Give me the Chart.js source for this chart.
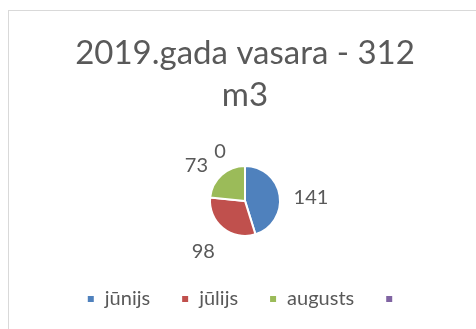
<!DOCTYPE html>
<html>
<head>
<meta charset="utf-8">
<script src="https://cdn.jsdelivr.net/npm/chart.js@4/dist/chart.umd.min.js"></script>
<style>
  html, body { margin: 0; padding: 0; background: #ffffff; }
  #c { display: block; }
</style>
</head>
<body>
<canvas id="c" width="476" height="329"></canvas>
<script>
// Summer 2019 water usage by month
const months = ['jūnijs', 'jūlijs', 'augusts', ''];
const volumes = [141, 98, 73, 0];
const titleLines = ['2019.gada vasara - 312', 'm3'];
const sliceColors = ['#4F81BD', '#C0504D', '#9BBB59', '#8064A2'];

const textColor = '#595959';
const fontFamily = 'Lato, "Open Sans", sans-serif';

// Light frame around the chart area
const frame = {
  id: 'frame',
  beforeDraw(chart) {
    const ctx = chart.ctx;
    ctx.save();
    ctx.strokeStyle = '#d9d9d9';
    ctx.lineWidth = 1;
    ctx.strokeRect(8.5, 10.5, 600, 600);
    ctx.restore();
  }
};

// Value labels placed outside each slice, along its middle angle
const outsideLabels = {
  id: 'outsideLabels',
  afterDatasetsDraw(chart, args, opts) {
    const ctx = chart.ctx;
    const meta = chart.getDatasetMeta(0);
    const values = chart.data.datasets[0].data;
    ctx.save();
    ctx.font = opts.size + 'px ' + fontFamily;
    ctx.fillStyle = opts.color;
    ctx.textAlign = 'center';
    ctx.textBaseline = 'middle';
    meta.data.forEach((arc, i) => {
      const p = arc.getProps(['x', 'y', 'startAngle', 'endAngle', 'outerRadius'], true);
      const adj = opts.adjust[i] || [0, 0];
      const a = (p.startAngle + p.endAngle) / 2 + adj[0] * Math.PI / 180;
      const d = p.outerRadius + adj[1];
      ctx.fillText(String(values[i]), p.x + Math.cos(a) * d, p.y + Math.sin(a) * d);
    });
    ctx.restore();
  }
};

new Chart(document.getElementById('c'), {
  type: 'pie',
  data: {
    labels: months,
    datasets: [{
      data: volumes,
      backgroundColor: sliceColors,
      borderColor: '#ffffff',
      borderWidth: 2
    }]
  },
  options: {
    responsive: false,
    animation: false,
    radius: 35,
    layout: { padding: { left: 14, right: 0, top: 0, bottom: 10 } },
    plugins: {
      title: {
        display: true,
        text: titleLines,
        color: textColor,
        font: { family: fontFamily, size: 33, weight: 'normal', lineHeight: 1.27 },
        padding: { top: 32, bottom: 28 }
      },
      legend: {
        position: 'bottom',
        labels: {
          boxWidth: 8,
          boxHeight: 8,
          padding: 31,
          color: textColor,
          font: { family: fontFamily, size: 20 }
        }
      },
      tooltip: { enabled: false },
      outsideLabels: {
        size: 20,
        color: textColor,
        adjust: { 0: [6, 31], 1: [0, 31], 2: [-12, 25], 3: [-27, 20] }
      }
    }
  },
  plugins: [frame, outsideLabels]
});
</script>
</body>
</html>
